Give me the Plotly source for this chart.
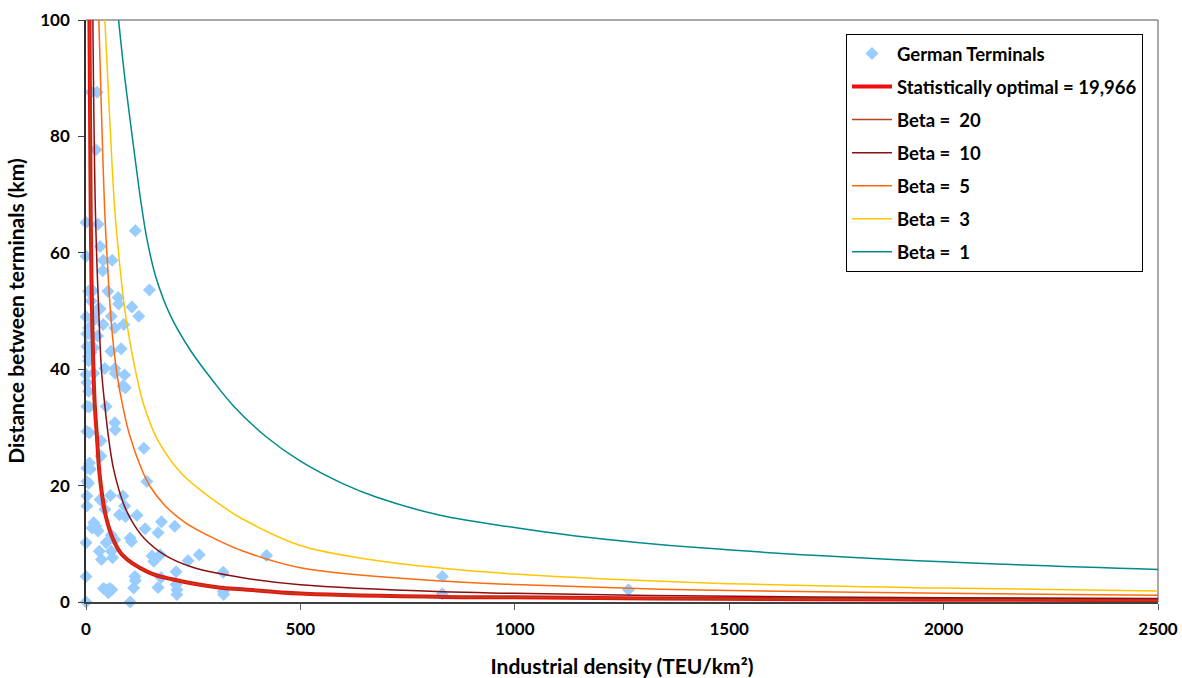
import plotly.graph_objects as go

# ---------------- data ----------------
terminals_x = [12, 26, 23,
               0, 28, 115, 33, 0, 40, 61, 39,
               6, 16, 51, 148, 12, 75, 76, 107, 28, 33, 123, 0, 16, 59, 18, 40, 88, 67, 6,
               2, 8, 27, 2, 10, 18, 12, 6, 58, 82, 6, 44, 67, 68, 90, 0, 18, 2, 86, 92, 6,
               2, 8, 47,
               67, 68, 2, 8, 35, 135, 35, 8, 2, 10, 2, 6, 142, 2, 57, 86, 33, 37, 2, 44, 90,
               78, 92, 119, 176, 207, 18, 23, 28, 14, 138, 168, 59, 67, 103, 106, 47, 0,
               59, 31, 62, 36, 173, 154, 158, 238, 264, 320, 210, 175, 114, 115, 0, 168, 111,
               210, 212, 212, 320, 321,
               41, 48, 55, 60, 52,
               0, 103,
               421, 831, 831, 1265]
terminals_y = [87.6, 87.6, 77.7,
               65.2, 64.9, 63.8, 61.1, 59.4, 58.7, 58.7, 56.9,
               53.4, 53.5, 53.4, 53.6, 51.7, 52.3, 51.2, 50.7, 50.4, 50.4, 49.1, 49.0, 49.1, 49.1, 48.4, 47.7, 47.7, 47.1, 47.1,
               46.1, 46.1, 45.7, 43.9, 43.9, 43.7, 42.9, 42.2, 43.1, 43.5, 41.4, 40.1, 40.1, 39.3, 39.0, 39.1, 39.3, 37.7, 37.1, 36.8, 36.2,
               33.6, 33.5, 33.6,
               30.8, 29.6, 29.3, 29.1, 27.7, 26.4, 25.1, 23.9, 23.0, 22.8, 20.7, 20.4, 20.7, 18.2, 18.3, 18.2, 17.6, 17.3, 16.5, 15.9, 16.5,
               15.0, 14.7, 14.9, 13.8, 13.0, 13.6, 13.0, 12.2, 12.7, 12.6, 11.9, 11.5, 10.7, 11.0, 10.4, 10.2, 10.2,
               8.7, 8.7, 7.6, 7.3, 8.1, 7.9, 7.0, 7.1, 8.1, 5.1, 5.2, 4.2, 4.4, 3.7, 4.4, 2.5, 2.4,
               3.0, 2.1, 1.3, 1.8, 1.3,
               2.3, 2.0, 2.3, 2.1, 1.6,
               0.0, 0.0,
               8.0, 4.4, 1.4, 2.1]

optimal_x = [8, 11, 14, 20, 25.7, 31, 41, 49, 62, 84, 146, 201, 310, 364, 500, 831, 999, 1316, 2000, 2500]
optimal_y = [100, 66.6, 50.3, 34.5, 28.2, 22.5, 16.7, 13.9, 11.0, 8.15, 5.1, 3.9, 2.5, 2.2, 1.45, 0.88, 0.8, 0.6, 0.4, 0.32]

beta20_x = [8, 11, 14, 20, 25.7, 31, 41, 49, 62, 84, 146, 201, 310, 364, 500, 831, 999, 1316, 2000, 2500]
beta20_y = [100, 66.6, 50.3, 34.5, 28.2, 22.5, 16.7, 13.9, 11.0, 8.15, 5.1, 3.9, 2.5, 2.2, 1.45, 0.88, 0.8, 0.6, 0.4, 0.32]

beta10_x = [16, 22, 29.5, 36, 44, 53, 64.5, 88, 107, 135, 185, 247, 362, 500, 831, 999, 1316, 2000, 2500]
beta10_y = [100, 67, 50.3, 40.0, 33.7, 28.0, 22.8, 16.8, 13.9, 11.0, 8.0, 6.0, 4.2, 2.95, 1.75, 1.5, 1.1, 0.74, 0.59]

beta5_x = [30, 44, 51, 55, 62, 72, 87, 102, 131, 150, 185, 232, 302, 364, 500, 831, 999, 1433, 2000, 2500]
beta5_y = [100, 66.6, 57, 52, 45.5, 39.3, 33.2, 28.6, 22.6, 19.8, 16.5, 13.6, 10.8, 8.8, 5.9, 3.6, 3.0, 2.05, 1.5, 1.15]

beta3_x = [44, 55, 67, 80, 90, 103, 117, 135, 166, 224, 317, 364, 500, 670, 831, 999, 1433, 2000, 2500]
beta3_y = [100, 83.5, 67.5, 57.0, 50.5, 44.5, 39.2, 33.8, 28.0, 22.0, 16.5, 14.3, 9.7, 7.2, 5.8, 4.8, 3.3, 2.4, 1.9]

beta1_x = [76, 89, 102, 115, 128, 142, 163, 197, 243, 298, 345, 420, 500, 600, 678, 826, 999, 1137, 1433, 2000, 2500]
beta1_y = [100, 91, 83.3, 75.9, 68.8, 62.4, 55.8, 49.2, 43.3, 37.8, 33.6, 28.4, 24.2, 20.3, 18.0, 14.9, 12.8, 11.4, 9.3, 6.9, 5.6]

x_ticks = [0, 500, 1000, 1500, 2000, 2500]
y_ticks = [0, 20, 40, 60, 80, 100]

FONT = "Lato"

fig = go.Figure()

fig.add_trace(go.Scatter(
    x=terminals_x, y=terminals_y, mode="markers", name="German Terminals",
    marker=dict(symbol="diamond", size=10, color="#99CCFF", line=dict(width=0)),
    cliponaxis=False, legendgroup="g0"))

curves = [
    ("Statistically optimal = 19,966", optimal_x, optimal_y, "#F20D0D", 4),
    ("Beta =  20", beta20_x, beta20_y, "#B0441C", 1.5),
    ("Beta =  10", beta10_x, beta10_y, "#8B1010", 1.5),
    ("Beta =  5", beta5_x, beta5_y, "#FF6A0E", 1.5),
    ("Beta =  3", beta3_x, beta3_y, "#FFC600", 1.5),
    ("Beta =  1", beta1_x, beta1_y, "#008A8A", 1.5),
]
for i, (name, xs, ys, col, w) in enumerate(curves):
    fig.add_trace(go.Scatter(
        x=xs, y=ys, mode="lines", name=name,
        line=dict(color=col, width=w, shape="spline", smoothing=1.0),
        legendgroup="g%d" % (i + 1)))

fig.update_layout(
    width=1182, height=678,
    margin=dict(l=86, r=24, t=20, b=76, autoexpand=False),
    paper_bgcolor="white", plot_bgcolor="white",
    font=dict(family=FONT, size=17, color="black", weight="bold"),
    showlegend=True,
    legend=dict(
        x=0.986, xanchor="right", y=0.976, yanchor="top",
        bgcolor="white", bordercolor="black", borderwidth=1,
        font=dict(family=FONT, size=18.5, color="black", weight="bold"),
        tracegroupgap=6, itemwidth=40),
    xaxis=dict(
        range=[0, 2500], tickvals=x_ticks, ticktext=[str(v) for v in x_ticks],
        showgrid=False, zeroline=False, showline=True, linecolor="#404040", linewidth=1.5,
        ticks="outside", ticklen=6, tickcolor="#606060", automargin=False,
        ticklabelstandoff=5, ticklabeloverflow="allow",
        tickfont=dict(family=FONT, size=17, weight="bold"),
        title=dict(text="Industrial density (TEU/km²)", standoff=22,
                   font=dict(family=FONT, size=21, weight="bold"))),
    yaxis=dict(
        range=[0, 100], tickvals=y_ticks, ticktext=[str(v) for v in y_ticks],
        showgrid=False, zeroline=False, showline=True, linecolor="#303030", linewidth=1.5,
        ticks="outside", ticklen=6, tickcolor="#404040", automargin=False,
        ticklabelstandoff=5, ticklabeloverflow="allow",
        tickfont=dict(family=FONT, size=17, weight="bold"),
        title=dict(text="Distance between terminals (km)", standoff=10,
                   font=dict(family=FONT, size=21, weight="bold"))),
    shapes=[
        dict(type="line", xref="paper", yref="paper", x0=0, x1=1, y0=1, y1=1,
             line=dict(color="#8C8C8C", width=1.5), layer="below"),
        dict(type="line", xref="paper", yref="paper", x0=1, x1=1, y0=0, y1=1,
             line=dict(color="#8C8C8C", width=1.5), layer="below"),
    ],
)

fig.write_html("out.html", config={"displayModeBar": False},
               post_script="document.body.style.margin='0';")
